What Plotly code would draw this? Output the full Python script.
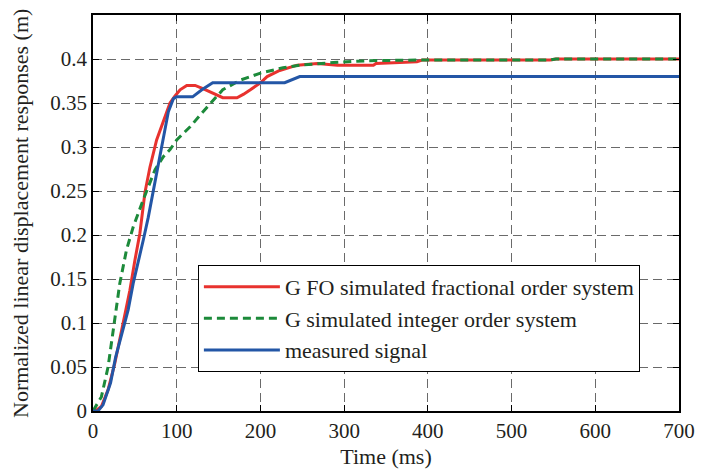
import plotly.graph_objects as go

t_fo = [0, 4, 10, 18, 26, 35, 44, 50, 56, 62, 68, 76, 84, 92, 98, 104, 112, 122, 132, 143, 155, 172, 180, 188, 200, 208, 223, 244, 268, 292, 335, 338, 387, 394, 546, 553, 700]
y_fo = [0, 0.001, 0.005, 0.024, 0.054, 0.095, 0.137, 0.171, 0.202, 0.248, 0.277, 0.308, 0.330, 0.350, 0.358, 0.365, 0.370, 0.370, 0.366, 0.361, 0.356, 0.356, 0.360, 0.365, 0.373, 0.380, 0.387, 0.393, 0.395, 0.393, 0.393, 0.395, 0.397, 0.399, 0.399, 0.400, 0.400]

t_io = [0, 2, 10, 18, 24, 32, 40, 48, 60, 74, 84, 92, 100, 116, 136, 155, 176, 200, 227, 247, 287, 327, 400, 546, 553, 700]
y_io = [0, 0.003, 0.016, 0.050, 0.089, 0.145, 0.183, 0.209, 0.240, 0.274, 0.289, 0.297, 0.308, 0.323, 0.345, 0.365, 0.376, 0.384, 0.390, 0.393, 0.396, 0.398, 0.399, 0.399, 0.400, 0.400]

t_ms = [0, 6, 12, 21, 27, 33, 42, 48, 54, 60, 66, 72, 78, 84, 90, 96, 100, 119, 130, 143, 229, 247, 700]
y_ms = [0, 0.0, 0.007, 0.032, 0.061, 0.084, 0.115, 0.145, 0.168, 0.194, 0.220, 0.251, 0.281, 0.312, 0.340, 0.355, 0.357, 0.357, 0.365, 0.373, 0.373, 0.380, 0.380]

x_ticks = [0, 100, 200, 300, 400, 500, 600, 700]
y_ticks = [0, 0.05, 0.1, 0.15, 0.2, 0.25, 0.3, 0.35, 0.4]
y_tick_text = ["0", "0.05", "0.1", "0.15", "0.2", "0.25", "0.3", "0.35", "0.4"]

names = ["G FO simulated fractional order system", "G simulated integer order system", "measured signal"]
x_title = "Time (ms)"
y_title = "Normalized linear displacement responses (m)"

fig = go.Figure()
fig.add_trace(go.Scatter(x=t_fo, y=y_fo, mode="lines", name=names[0],
                         line=dict(color="#E8322E", width=3)))
fig.add_trace(go.Scatter(x=t_io, y=y_io, mode="lines", name=names[1],
                         line=dict(color="#1C8A3A", width=3, dash="8px,5px")))
fig.add_trace(go.Scatter(x=t_ms, y=y_ms, mode="lines", name=names[2],
                         line=dict(color="#2356A6", width=3)))

font = "Liberation Serif, Times New Roman, serif"
txt = "#231f20"
axis_common = dict(
    showline=True, linecolor="black", linewidth=1.5, mirror="ticks",
    ticks="inside", ticklen=6, tickcolor="black", tickwidth=1,
    showgrid=True, gridcolor="#6a6a6a", gridwidth=1, griddash="9px,5px",
    zeroline=False, automargin=False,
    tickfont=dict(family=font, size=21, color=txt),
)
fig.update_xaxes(range=[0, 700], tickvals=x_ticks, **axis_common,
                 title=dict(text=x_title, font=dict(family=font, size=22, color=txt), standoff=7))
fig.update_yaxes(range=[0, 0.45], tickvals=y_ticks, ticktext=y_tick_text, **axis_common)

fig.add_annotation(text=y_title, xref="paper", yref="paper", x=-0.1246, y=0.5,
                   xanchor="center", yanchor="middle", textangle=-90, showarrow=False,
                   font=dict(family=font, size=22, color=txt))

# page body has an 8px default margin, so the figure is sized to fit inside the window
fig.update_layout(
    width=704, height=463,
    margin=dict(l=85, r=33, t=7, b=60),
    plot_bgcolor="white", paper_bgcolor="white",
    font=dict(family=font, size=21, color=txt),
    legend=dict(x=0.179, y=0.369, xanchor="left", yanchor="top",
                bgcolor="white", bordercolor="black", borderwidth=1,
                font=dict(family=font, size=22, color=txt),
                tracegroupgap=0, itemwidth=76),
    showlegend=True,
)

fig.write_html("out.html")
